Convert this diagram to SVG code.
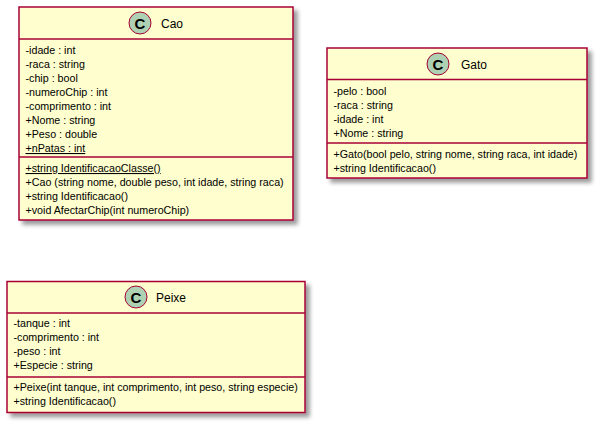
<svg xmlns="http://www.w3.org/2000/svg" width="599" height="425" viewBox="0 0 599 425">
<style>
.box{fill:#FEFECE;stroke:#A80036;stroke-width:1.5}
.sep{stroke:#A80036;stroke-width:1.5}
.circ{fill:#ADD1B2;stroke:#A80036;stroke-width:1}
.cl{font-family:"Liberation Sans",Arial,sans-serif;font-size:15px;font-weight:bold;fill:#000;text-anchor:middle}
.nm{font-family:"Liberation Sans",Arial,sans-serif;font-size:12px;fill:#000}
.t{font-family:"Liberation Sans",Arial,sans-serif;font-size:10.7px;fill:#000}
.u{text-decoration:underline}
</style>
<defs>
<filter id="sh" x="-10%" y="-10%" width="130%" height="130%">
<feGaussianBlur in="SourceAlpha" stdDeviation="2"/>
<feOffset dx="4" dy="4" result="b"/>
<feComponentTransfer><feFuncA type="linear" slope="0.4"/></feComponentTransfer>
<feMerge><feMergeNode/><feMergeNode in="SourceGraphic"/></feMerge>
</filter>
</defs>
<g id="Cao">
<rect class="box" x="19" y="7" width="274" height="213" filter="url(#sh)"/>
<circle class="circ" cx="140" cy="23" r="11"/>
<text class="cl" x="140" y="28.5">C</text>
<text class="nm" x="161" y="28">Cao</text>
<line class="sep" x1="19" y1="39" x2="293" y2="39"/>
<text class="t" x="25.5" y="54">-idade : int</text>
<text class="t" x="25.5" y="68">-raca : string</text>
<text class="t" x="25.5" y="82">-chip : bool</text>
<text class="t" x="25.5" y="96">-numeroChip : int</text>
<text class="t" x="25.5" y="110">-comprimento : int</text>
<text class="t" x="25.5" y="124">+Nome : string</text>
<text class="t" x="25.5" y="138">+Peso : double</text>
<text class="t u" x="25.5" y="152">+nPatas : int</text>
<line class="sep" x1="19" y1="157" x2="293" y2="157"/>
<text class="t u" x="25.5" y="172">+string IdentificacaoClasse()</text>
<text class="t" x="25.5" y="186">+Cao (string nome, double peso, int idade, string raca)</text>
<text class="t" x="25.5" y="200">+string Identificacao()</text>
<text class="t" x="25.5" y="214">+void AfectarChip(int numeroChip)</text>
</g>
<g id="Gato">
<rect class="box" x="327" y="48" width="260" height="130" filter="url(#sh)"/>
<circle class="circ" cx="438" cy="64" r="11"/>
<text class="cl" x="438" y="69.5">C</text>
<text class="nm" x="461" y="69">Gato</text>
<line class="sep" x1="327" y1="79.5" x2="587" y2="79.5"/>
<text class="t" x="333.5" y="95">-pelo : bool</text>
<text class="t" x="333.5" y="109">-raca : string</text>
<text class="t" x="333.5" y="123">-idade : int</text>
<text class="t" x="333.5" y="137">+Nome : string</text>
<line class="sep" x1="327" y1="143" x2="587" y2="143"/>
<text class="t" x="333.5" y="158">+Gato(bool pelo, string nome, string raca, int idade)</text>
<text class="t" x="333.5" y="172">+string Identificacao()</text>
</g>
<g id="Peixe">
<rect class="box" x="7" y="281.5" width="298" height="131" filter="url(#sh)"/>
<circle class="circ" cx="136" cy="297" r="11"/>
<text class="cl" x="136" y="302.5">C</text>
<text class="nm" x="156" y="302">Peixe</text>
<line class="sep" x1="7" y1="313" x2="305" y2="313"/>
<text class="t" x="13.5" y="327">-tanque : int</text>
<text class="t" x="13.5" y="341">-comprimento : int</text>
<text class="t" x="13.5" y="355">-peso : int</text>
<text class="t" x="13.5" y="369">+Especie : string</text>
<line class="sep" x1="7" y1="377" x2="305" y2="377"/>
<text class="t" x="13.5" y="391">+Peixe(int tanque, int comprimento, int peso, string especie)</text>
<text class="t" x="13.5" y="405">+string Identificacao()</text>
</g>
<g id="connectors"/>
</svg>
